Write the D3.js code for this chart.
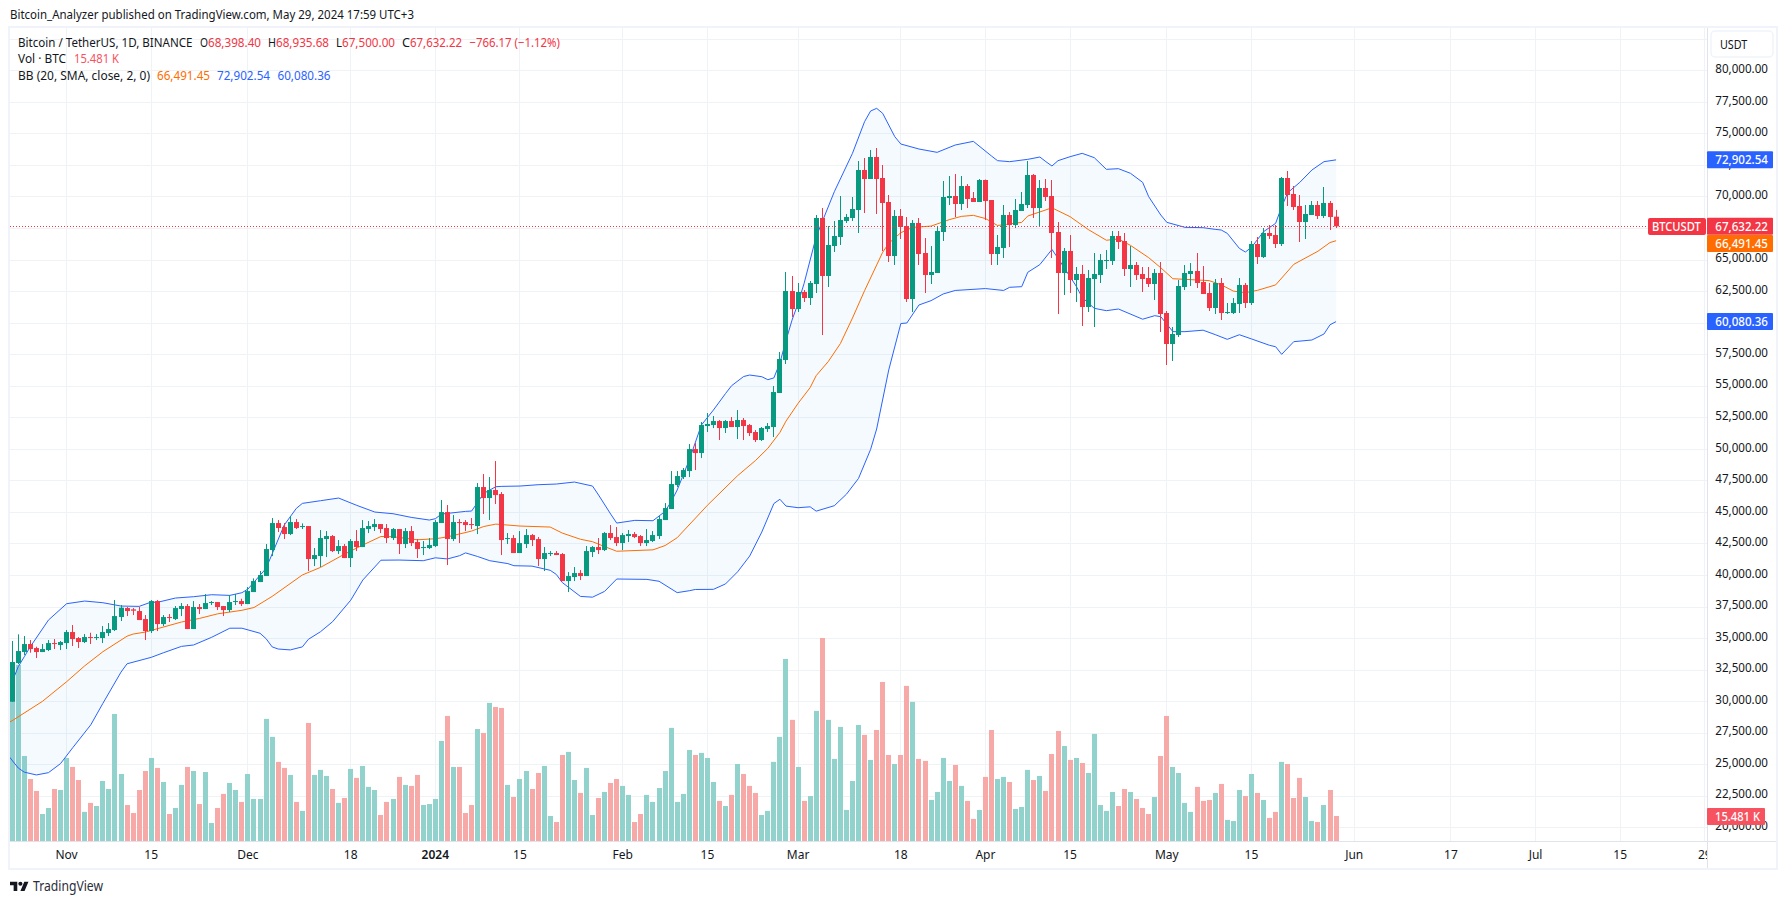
<!DOCTYPE html>
<html>
<head>
<meta charset="utf-8">
<script src="https://cdn.jsdelivr.net/npm/d3@7"></script>
<style>
  html, body { margin: 0; padding: 0; background: #fff; overflow: hidden; }
  svg { display: block; }
  text { font-family: "Noto Sans", sans-serif; font-size: 12px; fill: #131722; }
</style>
</head>
<body>
<svg id="chart" width="1787" height="904"></svg>
<script>
// daily candles, first one is 23 Oct 2023
let firstDay = Date.UTC(2023, 9, 23);

let openPrices = [
  29954, 33019, 33891, 34525, 34208, 33891, 34049, 34604, 34446, 34604,
  35476, 35001, 34684, 35080, 35001, 35001, 35397, 35635, 36665, 37378,
  37273, 37141, 36506, 35555, 37933, 36110, 36665, 36506, 37299, 37537,
  35714, 37458, 37299, 37774, 37854, 37537, 37220, 37854, 37933, 37695,
  38646, 39439, 39915, 41975, 44115, 43798, 43244, 44194, 43798, 43878,
  41262, 41500, 42847, 43085, 41896, 42292, 41341, 42689, 42213, 43640,
  43798, 44036, 43719, 42927, 43640, 42451, 43481, 42610, 42134, 42134,
  42292, 44115, 44987, 42847, 44194, 44194, 44036, 43878, 46969, 46097,
  46731, 46414, 42847, 42927, 41738, 42451, 43164, 42847, 41262, 41658,
  41738, 41658, 39518, 39835, 40152, 39915, 41817, 42213, 41975, 43323,
  43006, 42530, 43085, 43244, 43085, 42530, 42689, 43085, 44353, 45225,
  47127, 47761, 48237, 49981, 49665, 51805, 51884, 52201, 51646, 52201,
  51726, 52281, 51884, 51330, 50695, 51567, 51726, 54421, 57038, 62507,
  61080, 62428, 61952, 63062, 68293, 63696, 66073, 66787, 68055, 68293,
  68927, 72097, 71384, 73128, 71463, 69561, 65281, 68451, 67659, 61873,
  67896, 65519, 63775, 63934, 67183, 69878, 70036, 69402, 70829, 69878,
  69561, 71305, 69719, 65439, 65915, 68530, 67738, 68848, 69323, 71701,
  69085, 70671, 70036, 67183, 63934, 65677, 63379, 63854, 61238, 63458,
  63775, 64885, 64885, 66866, 66470, 64250, 64568, 63854, 63537, 63062,
  63934, 60763, 58306, 59019, 62824, 63854, 64092, 63220, 62348, 61159,
  63141, 60763, 60763, 61476, 62982, 61556, 66232, 65201, 67104, 66945,
  66232, 71463, 70195, 69244, 67975, 68530, 69323, 68451, 69481, 68398.40
];
let highPrices = [
  34763, 35291, 35159, 34842, 34314, 34525, 34842, 34921, 34763, 35635,
  36031, 35080, 35318, 35423, 35318, 35952, 36190, 38012, 37616, 37458,
  37378, 37458, 36824, 38012, 38012, 36824, 36903, 37537, 37774, 37695,
  37933, 37695, 38488, 37933, 37854, 37537, 38409, 38488, 38118, 39043,
  39730, 40311, 42451, 44512, 44353, 44115, 44670, 44433, 44089, 43878,
  42134, 43561, 43481, 43164, 42768, 42451, 42847, 43561, 44353, 44274,
  44433, 44036, 44036, 43719, 43640, 43719, 43878, 42847, 42689, 42927,
  44353, 45938, 45542, 44750, 44433, 44353, 44512, 47286, 47999, 47761,
  49030, 46572, 43323, 43164, 43481, 43640, 43244, 43006, 42213, 41896,
  41896, 41738, 40232, 40628, 40390, 42292, 42292, 42927, 43402, 43957,
  43798, 43323, 43561, 43402, 43164, 43640, 43481, 44670, 45701, 48237,
  48237, 48475, 50377, 50456, 52122, 52836, 52598, 52280, 52280, 52519,
  53073, 52439, 51964, 51488, 51726, 52043, 54975, 57670, 64013, 63696,
  63141, 62586, 63299, 68530, 69085, 67659, 68055, 70036, 68610, 69957,
  72811, 73048, 73682, 73841, 72494, 70116, 68927, 69006, 68372, 68134,
  68293, 66708, 66073, 67659, 71225, 71622, 71780, 71622, 70987, 70353,
  71384, 71340, 69719, 66945, 69323, 68768, 69799, 70353, 72811, 71780,
  71305, 71384, 71305, 67976, 65915, 66945, 64409, 64568, 64171, 65519,
  65440, 65756, 67262, 67262, 67104, 66073, 64805, 64409, 64409, 64250,
  64805, 60922, 59653, 63379, 64568, 64726, 65519, 64488, 63141, 63458,
  63537, 61556, 61952, 63537, 63141, 66470, 66787, 67500, 67738, 67738,
  71542, 72018, 70829, 70116, 69323, 69640, 69640, 70750, 69640, 68935.68
];
let lowPrices = [
  29954, 32940, 33653, 33838, 33415, 33891, 33970, 34129, 34049, 34129,
  34367, 34208, 34604, 34525, 34842, 34604, 35159, 35555, 36348, 36744,
  36824, 36427, 34842, 35397, 35555, 35952, 36269, 36427, 36744, 35714,
  35714, 36903, 37299, 37616, 37220, 36744, 37061, 37616, 37537, 37695,
  38646, 39439, 39915, 41500, 43402, 42847, 43164, 43640, 43640, 40311,
  40707, 40628, 41421, 41817, 41658, 41341, 40628, 41896, 42213, 43323,
  43481, 43323, 42530, 42768, 41658, 42134, 42292, 41341, 41579, 42055,
  42213, 44115, 40787, 42689, 42530, 43481, 43640, 43244, 44829, 44353,
  45621, 41579, 42451, 41738, 41738, 42134, 42292, 40707, 40311, 41500,
  41579, 39518, 38646, 39518, 39598, 39915, 41421, 41658, 41896, 42768,
  42292, 41975, 42610, 42927, 42292, 42292, 42610, 42847, 44353, 45225,
  46969, 47603, 47761, 48316, 49267, 51330, 51646, 50695, 51250, 51726,
  50775, 50695, 51012, 50537, 50616, 51330, 50933, 54421, 56721, 60446,
  60843, 61635, 61397, 62348, 59019, 62824, 65598, 66153, 67897, 68055,
  67104, 68689, 71384, 68610, 65677, 64805, 64568, 66628, 61635, 60843,
  64568, 62348, 63062, 63934, 66470, 69323, 68372, 68927, 69085, 69561,
  69561, 68134, 64568, 64568, 65122, 65994, 67500, 68848, 69085, 68293,
  67579, 69640, 65122, 60684, 62190, 62348, 61635, 59733, 60843, 59653,
  63141, 64250, 64568, 65836, 63696, 62824, 63379, 62428, 62824, 61793,
  59257, 56642, 56959, 58860, 62586, 62903, 62745, 62269, 60922, 60684,
  60208, 60684, 60684, 60763, 61159, 61397, 64646, 65122, 66628, 65915,
  66073, 69244, 68927, 66390, 66628, 68530, 68213, 68292, 67341, 67500.00
];
let closePrices = [
  33098, 33970, 34525, 34129, 33891, 34129, 34604, 34525, 34684, 35476,
  34921, 34684, 35080, 35001, 35080, 35476, 35714, 36744, 37405, 37141,
  37167, 36427, 35555, 37933, 36110, 36665, 36586, 37378, 37537, 35714,
  37458, 37299, 37774, 37854, 37458, 37220, 37854, 37933, 37695, 38726,
  39518, 39994, 42055, 44115, 43719, 43244, 44194, 43719, 43878, 41262,
  41579, 42927, 43085, 41896, 42292, 41341, 42689, 42213, 43719, 43878,
  44036, 43640, 42927, 43640, 42451, 43481, 42530, 42055, 42213, 42372,
  44194, 44987, 42847, 44194, 44115, 43957, 43957, 46969, 46097, 46731,
  46335, 42768, 42927, 41738, 42530, 43164, 42768, 41262, 41738, 41738,
  41579, 39518, 39915, 40152, 39915, 41896, 42213, 41975, 43323, 42927,
  42530, 43164, 43244, 43006, 42530, 42768, 43164, 44433, 45304, 47207,
  47841, 48316, 49981, 49664, 51884, 51964, 52201, 51646, 52201, 51726,
  52281, 51805, 51250, 50695, 51646, 51805, 54500, 57116, 62507, 61080,
  62428, 61952, 63141, 68293, 63696, 66153, 66866, 68134, 68372, 69006,
  72097, 71384, 73128, 71384, 69482, 65281, 68451, 67580, 61873, 67896,
  65439, 63775, 64013, 67262, 69957, 70036, 69402, 70829, 69799, 69561,
  71305, 69640, 65439, 65994, 68530, 67738, 68927, 69402, 71701, 69085,
  70671, 69957, 67104, 63934, 65677, 63379, 63854, 61238, 63537, 63854,
  64964, 64964, 66866, 66390, 64250, 64568, 63775, 63458, 63062, 63934,
  60684, 58306, 59099, 62903, 63934, 64092, 63141, 62269, 61159, 63141,
  60763, 60842, 61556, 62982, 61556, 66232, 65201, 67104, 66866, 66232,
  71463, 70116, 69164, 67975, 68610, 69323, 68451, 69481, 68372, 67632.22
];
// volume in thousands of BTC
let volumes = [
  98, 108, 52.2, 38.1, 30.8, 16.7, 20.4, 32, 31.4, 51,
  45.5, 37.5, 18, 23.5, 21.6, 36.9, 32, 77.9, 41.2, 22.2,
  17.3, 31.4, 43, 51, 44.9, 36.3, 16.7, 20.4, 34.5, 45.5,
  43, 22.8, 42.4, 11.2, 20.4, 29, 35.7, 31.4, 24.1, 41.2,
  25.9, 25.9, 74.9, 63.9, 48.6, 44.9, 40.6, 24.1, 18.6, 72.4,
  40.6, 43.7, 40, 32, 23.5, 26.5, 44.3, 38.8, 46.1, 33.3,
  31.4, 16.1, 24.1, 25.9, 39.4, 34.5, 33.9, 40.6, 22.2, 22.8,
  25.9, 61.4, 76.7, 45.5, 45.5, 17.3, 22.2, 68.7, 66.3, 84.7,
  82.2, 81.6, 34.5, 27.1, 38.1, 43, 32, 41.8, 46.1, 15.5,
  11.8, 52.8, 54.7, 37.5, 29.6, 44.9, 16.1, 26.5, 30.2, 35.7,
  38.1, 33.9, 28.4, 11.8, 16.7, 28.4, 24.1, 32.6, 43, 69.4,
  24.1, 29, 55.9, 52.8, 54.1, 51, 36.3, 24.7, 21.6, 28.4,
  47.3, 41.2, 33.9, 29.6, 16.1, 18.6, 48.6, 63.9, 111.6, 74.3,
  45.5, 24.7, 27.7, 79.8, 124.4, 74.3, 50.4, 70, 19.2, 36.9,
  71.2, 65.1, 49.8, 68.1, 97.5, 52.8, 47.3, 52.8, 95.1, 85.3,
  50.4, 49.2, 25.3, 30.2, 51, 36.9, 46.7, 33.9, 24.7, 13.7,
  19.2, 39.4, 68.1, 38.1, 39.4, 36.3, 19.8, 21, 43.7, 37.5,
  40, 30.8, 53.4, 67.5, 58.3, 49.8, 51, 47.9, 41.8, 65.7,
  22.2, 18.6, 30.2, 21.6, 32, 30.2, 25.9, 20.4, 16.7, 27.1,
  52.2, 76.7, 45.5, 41.8, 23.5, 18, 33.3, 24.7, 25.3, 29.6,
  35.1, 13.1, 12.4, 31.4, 27.7, 41.2, 29.6, 25.3, 14.3, 18,
  48.6, 47.3, 26.5, 38.8, 27.1, 12.4, 11.8, 22.2, 31.4, 15.481
];

// bollinger lines at the days listed (days since firstDay)
let upperDays = [-1, 0, 1, 2, 3, 6, 9, 12, 15, 18, 21, 23, 24, 27, 30, 33, 36, 38, 39, 42, 45, 47, 48, 51, 54, 57, 60, 63, 66, 69, 70, 71, 72, 75, 76, 78, 80, 81, 84, 87, 90, 93, 96, 97, 99, 100, 103, 106, 108, 109, 110, 112, 114, 116, 118, 119, 121, 122, 124, 125, 126, 127, 128, 129, 130, 131, 133, 136, 139, 141, 142, 143, 144, 146, 147, 150, 153, 156, 159, 162, 163, 165, 168, 170, 171, 172, 173, 175, 177, 179, 181, 183, 185, 187, 188, 190, 191, 194, 197, 199, 200, 201, 203, 204, 205, 207, 209, 210, 211, 213, 215, 217, 219];
let upperBand = [30620, 31540, 32729, 33521, 34314, 36427, 37722, 37933, 37801, 37537, 37510, 37854, 37828, 38171, 38277, 38435, 38382, 38594, 38884, 40522, 43957, 45278, 45674, 45886, 46097, 45516, 44987, 44855, 44565, 44353, 44459, 44829, 44881, 45040, 45067, 46467, 46995, 47022, 47048, 47154, 47207, 47365, 47048, 46335, 44829, 44115, 44327, 44300, 45040, 45806, 46731, 49109, 51880, 53073, 54380, 55000, 55730, 55847, 55715, 55477, 55620, 56820, 58580, 60200, 61529, 63115, 66813, 70380, 73418, 75928, 76774, 76985, 76589, 74739, 74158, 73762, 73497, 74079, 74369, 73207, 72837, 72758, 72943, 73128, 72758, 72414, 72837, 73154, 73418, 73075, 72150, 72203, 71833, 71120, 69984, 68531, 67949, 67553, 67527, 67394, 67341, 67077, 65888, 65598, 65968, 67209, 67870, 69191, 70300, 71119, 72097, 72758, 72902.54];

let middleDays = [-1, 0, 5, 9, 12, 15, 19, 20, 22, 28, 31, 34, 38, 40, 43, 48, 51, 55, 58, 61, 63, 67, 70, 72, 76, 78, 80, 84, 89, 91, 94, 96, 98, 100, 106, 108, 110, 115, 120, 123, 125, 127, 128, 130, 132, 133, 135, 137, 139, 141, 144, 145, 147, 149, 152, 155, 157, 159, 161, 163, 167, 168, 172, 175, 178, 181, 183, 185, 188, 190, 192, 194, 198, 200, 202, 204, 206, 209, 212, 216, 218, 219];
let middleBand = [28200, 28450, 29980, 31538, 32800, 33916, 35150, 35317, 35470, 36270, 36558, 36920, 37200, 37420, 38300, 40000, 40600, 41660, 42372, 43050, 43032, 42790, 42870, 43020, 43480, 43840, 44030, 43878, 43798, 43320, 42830, 42636, 42250, 41880, 41990, 42330, 42950, 45520, 47870, 49090, 50035, 51300, 52190, 53600, 54850, 55800, 56920, 58340, 60360, 62530, 65580, 66280, 67130, 67553, 67650, 68160, 68420, 68504, 68250, 67700, 67950, 68450, 69100, 68398, 67380, 66530, 66628, 66120, 65150, 64350, 63480, 63430, 63330, 63000, 62500, 62374, 62560, 62990, 64620, 65660, 66350, 66491.45];

let lowerDays = [-1, 1, 2, 4, 6, 8, 10, 13, 15, 18, 19, 23, 25, 28, 30, 33, 36, 38, 41, 42, 43, 44, 46, 48, 49, 51, 53, 56, 58, 61, 64, 68, 70, 72, 74, 75, 77, 79, 82, 83, 86, 89, 90, 91, 94, 96, 98, 100, 105, 107, 110, 112, 113, 116, 118, 120, 122, 124, 126, 127, 128, 130, 132, 133, 136, 138, 140, 142, 143, 145, 147, 148, 150, 152, 154, 156, 161, 164, 165, 167, 168, 170, 172, 173, 176, 177, 179, 181, 183, 187, 189, 190, 192, 194, 197, 199, 201, 203, 205, 208, 209, 210, 212, 215, 217, 218, 219];
let lowerBand = [25900, 24700, 24370, 24150, 24330, 25050, 26300, 28120, 29820, 32300, 32960, 33470, 33830, 34340, 34450, 35060, 35780, 35780, 35380, 34950, 34300, 34130, 34060, 34300, 34900, 35500, 36295, 38000, 39598, 41170, 41183, 41130, 41360, 41270, 41526, 41750, 41460, 41130, 40900, 40734, 40700, 40370, 40047, 39400, 38300, 38240, 38700, 39680, 39650, 39500, 38600, 38750, 38850, 38860, 39290, 40250, 41500, 43400, 45660, 46000, 45460, 45331, 45400, 45060, 45490, 46400, 47650, 49950, 51570, 56250, 59930, 59970, 61400, 61741, 62270, 62550, 62700, 62550, 62800, 62850, 63990, 64600, 65800, 65100, 62900, 62000, 61133, 60948, 61080, 60270, 60551, 60472, 59284, 59284, 59400, 59050, 58676, 59040, 58710, 58200, 58090, 57486, 58490, 58623, 59100, 59830, 60080.36];

// axis ticks
let priceTicks = [82500, 80000, 77500, 75000, 72500, 70000, 67500, 65000, 62500, 60000, 57500, 55000, 52500, 50000, 47500, 45000, 42500, 40000, 37500, 35000, 32500, 30000, 27500, 25000, 22500, 20000];
let timeTicks = [
  [Date.UTC(2023, 10, 1), "Nov"], [Date.UTC(2023, 10, 15), "15"], [Date.UTC(2023, 11, 1), "Dec"],
  [Date.UTC(2023, 11, 18), "18"], [Date.UTC(2024, 0, 1), "2024"], [Date.UTC(2024, 0, 15), "15"],
  [Date.UTC(2024, 1, 1), "Feb"], [Date.UTC(2024, 1, 15), "15"], [Date.UTC(2024, 2, 1), "Mar"],
  [Date.UTC(2024, 2, 18), "18"], [Date.UTC(2024, 3, 1), "Apr"], [Date.UTC(2024, 3, 15), "15"],
  [Date.UTC(2024, 4, 1), "May"], [Date.UTC(2024, 4, 15), "15"], [Date.UTC(2024, 5, 1), "Jun"],
  [Date.UTC(2024, 5, 17), "17"], [Date.UTC(2024, 6, 1), "Jul"], [Date.UTC(2024, 6, 15), "15"],
  [Date.UTC(2024, 6, 29), "29"]
];

let green = "#089981", red = "#F23645", volGreen = "#92d2cc", volRed = "#f7a9a7";
let blue = "#2962FF", orange = "#FF6D00";
let gridColor = "#f0f3f6", frameColor = "#f0f3fa", scaleLine = "#e0e3eb";

let pane = { left: 10, right: 1707, top: 28, bottom: 841 };

let svg = d3.select("#chart");

let dayToDate = function(i) { return new Date(firstDay + i * 86400000); };

let x = d3.scaleUtc()
  .domain([new Date(Date.UTC(2023, 10, 1)), new Date(Date.UTC(2024, 6, 15))])
  .range([66.6, 1620.2]);
let y = d3.scaleLinear()
  .domain([20000, 80000])
  .range([827.3, 70.3]);
let yVol = d3.scaleLinear()
  .domain([0, 124.4])
  .range([841.3, 638]);

svg.append("clipPath").attr("id", "paneClip").append("rect")
  .attr("x", pane.left).attr("y", pane.top)
  .attr("width", pane.right - pane.left).attr("height", pane.bottom - pane.top);

// the installed fonts run wider than the original, so squeeze texts to the measured widths
let fit = function(sel, width) {
  return sel.attr("textLength", width).attr("lengthAdjust", "spacingAndGlyphs");
};

// header
fit(svg.append("text").attr("x", 10).attr("y", 19)
  .style("font-size", "12.5px")
  .text("Bitcoin_Analyzer published on TradingView.com, May 29, 2024 17:59 UTC+3"), 404);

// gridlines
let plot = svg.append("g").attr("clip-path", "url(#paneClip)");
plot.append("g").selectAll("line").data(priceTicks).enter().append("line")
  .attr("x1", pane.left).attr("x2", pane.right)
  .attr("y1", function(d) { return Math.round(y(d)) + 0.5; })
  .attr("y2", function(d) { return Math.round(y(d)) + 0.5; })
  .attr("stroke", gridColor);
plot.append("g").selectAll("line").data(timeTicks).enter().append("line")
  .attr("x1", function(d) { return Math.floor(x(new Date(d[0]))) + 0.5; })
  .attr("x2", function(d) { return Math.floor(x(new Date(d[0]))) + 0.5; })
  .attr("y1", pane.top).attr("y2", pane.bottom)
  .attr("stroke", gridColor);

let bodyLeft = function(i) { return Math.round(x(dayToDate(i)) - 2.5); };
let isUp = function(i) { return closePrices[i] >= openPrices[i]; };

// volume
plot.append("g").selectAll("rect").data(volumes).enter().append("rect")
  .attr("x", function(d, i) { return bodyLeft(i); })
  .attr("width", 5)
  .attr("y", function(d) { return yVol(d); })
  .attr("height", function(d) { return yVol(0) - yVol(d); })
  .attr("fill", function(d, i) { return isUp(i) ? volGreen : volRed; });

// bollinger band fill and lines
let makeLine = function(days, values) {
  return d3.line()
    .x(function(d, i) { return x(dayToDate(days[i])); })
    .y(function(d) { return y(d); })(values);
};
// fill needs both edges, so walk along the upper line and back down the lower one
let upperPts = upperBand.map(function(v, i) { return [x(dayToDate(upperDays[i])), y(v)]; });
let lowerPts = lowerBand.map(function(v, i) { return [x(dayToDate(lowerDays[i])), y(v)]; }).reverse();
plot.append("path")
  .attr("d", d3.line()(upperPts.concat(lowerPts)) + "Z")
  .attr("fill", "rgba(33,150,243,0.05)");
plot.append("path").attr("d", makeLine(upperDays, upperBand))
  .attr("fill", "none").attr("stroke", blue).attr("stroke-width", 1);
plot.append("path").attr("d", makeLine(lowerDays, lowerBand))
  .attr("fill", "none").attr("stroke", blue).attr("stroke-width", 1);
plot.append("path").attr("d", makeLine(middleDays, middleBand))
  .attr("fill", "none").attr("stroke", orange).attr("stroke-width", 1);

// candles
let candles = plot.append("g").selectAll("g").data(openPrices).enter().append("g");
candles.append("rect")
  .attr("x", function(d, i) { return bodyLeft(i) + 2; })
  .attr("width", 1)
  .attr("y", function(d, i) { return y(highPrices[i]); })
  .attr("height", function(d, i) { return y(lowPrices[i]) - y(highPrices[i]); })
  .attr("fill", function(d, i) { return isUp(i) ? green : red; });
candles.append("rect")
  .attr("x", function(d, i) { return bodyLeft(i); })
  .attr("width", 5)
  .attr("y", function(d, i) { return y(Math.max(openPrices[i], closePrices[i])); })
  .attr("height", function(d, i) { return Math.max(1, Math.abs(y(openPrices[i]) - y(closePrices[i]))); })
  .attr("fill", function(d, i) { return isUp(i) ? green : red; });

// last price line
let lastClose = closePrices[closePrices.length - 1];
svg.append("line")
  .attr("x1", pane.left).attr("x2", 1648)
  .attr("y1", Math.round(y(lastClose)) + 0.5).attr("y2", Math.round(y(lastClose)) + 0.5)
  .attr("stroke", red).attr("stroke-dasharray", "1 2");

// scale lines and frame
svg.append("line").attr("x1", pane.left).attr("x2", 1776).attr("y1", 841.5).attr("y2", 841.5).attr("stroke", scaleLine);
svg.append("line").attr("x1", 1707.5).attr("x2", 1707.5).attr("y1", pane.top).attr("y2", 869).attr("stroke", scaleLine);
svg.append("rect").attr("x", 9).attr("y", 27).attr("width", 1768).attr("height", 842)
  .attr("fill", "none").attr("stroke", frameColor).attr("stroke-width", 2);

// price labels
fit(svg.append("g").selectAll("text").data(priceTicks.slice(1)).enter().append("text")
  .attr("x", 1768)
  .attr("y", function(d) { return y(d) - 1.5; })
  .attr("dy", "0.35em")
  .style("text-anchor", "end")
  .text(function(d) { return d3.format(",.2f")(d); }), 52.7);

// time labels
svg.append("clipPath").attr("id", "timeClip").append("rect")
  .attr("x", pane.left).attr("y", 842).attr("width", pane.right - pane.left).attr("height", 26);
svg.append("g").attr("clip-path", "url(#timeClip)").selectAll("text").data(timeTicks).enter().append("text")
  .attr("x", function(d) { return x(new Date(d[0])); })
  .attr("y", 855)
  .attr("dy", "0.35em")
  .style("text-anchor", "middle")
  .style("font-weight", function(d) { return d[1] === "2024" ? "600" : "400"; })
  .text(function(d) { return d[1]; });

// value tags on the price scale
let tags = [
  { value: 72902.54, label: "72,902.54", color: blue },
  { value: 60080.36, label: "60,080.36", color: blue },
  { value: 66491.45, label: "66,491.45", color: orange, yc: 243.5 },
  { value: 67632.22, label: "67,632.22", color: red }
];
let tag = svg.append("g").selectAll("g").data(tags).enter().append("g");
tag.append("rect")
  .attr("x", 1707)
  .attr("y", function(d) { return (d.yc || y(d.value)) - 8.5; })
  .attr("width", 66)
  .attr("height", 17)
  .attr("rx", 1)
  .attr("fill", function(d) { return d.color; });
fit(tag.append("text")
  .attr("x", 1768)
  .attr("y", function(d) { return d.yc || y(d.value); })
  .attr("dy", "0.35em")
  .style("text-anchor", "end")
  .style("fill", "#fff")
  .style("font-weight", "500")
  .text(function(d) { return d.label; }), 52.7);

// BTCUSDT tag
svg.append("rect").attr("x", 1648).attr("y", 218).attr("width", 58).attr("height", 17).attr("rx", 2).attr("fill", red);
fit(svg.append("text").attr("x", 1652).attr("y", 226.5).attr("dy", "0.35em")
  .style("fill", "#fff").style("font-weight", "500").text("BTCUSDT"), 48.7);

// volume tag
svg.append("rect").attr("x", 1707).attr("y", 808).attr("width", 58).attr("height", 17).attr("rx", 1).attr("fill", "#f7525f");
fit(svg.append("text").attr("x", 1715).attr("y", 816.5).attr("dy", "0.35em")
  .style("fill", "#fff").style("font-weight", "500").text("15.481 K"), 45);

// currency button
svg.append("rect").attr("x", 1711).attr("y", 31).attr("width", 62).attr("height", 26).attr("rx", 4)
  .attr("fill", "#fff").attr("stroke", frameColor).attr("stroke-width", 1.5);
fit(svg.append("text").attr("x", 1720).attr("y", 44.5).attr("dy", "0.35em").text("USDT"), 27.3);

// legend rows: x, y, text, colour, width
let legendRows = [
  [18, 42.7, "Bitcoin / TetherUS, 1D, BINANCE", "#131722", 174.5],
  [200, 42.7, "O", "#131722", 8], [208, 42.7, "68,398.40", red, 53],
  [268, 42.7, "H", "#131722", 8], [276, 42.7, "68,935.68", red, 53],
  [336, 42.7, "L", "#131722", 6], [342, 42.7, "67,500.00", red, 53],
  [402, 42.7, "C", "#131722", 8], [410, 42.7, "67,632.22", red, 52],
  [469.5, 42.7, "\u2212766.17 (\u22121.12%)", red, 90.5],
  [18, 59, "Vol \u00b7 BTC", "#131722", 48], [74, 59, "15.481 K", "#f7525f", 45],
  [18, 76, "BB (20, SMA, close, 2, 0)", "#131722", 132], [157, 76, "66,491.45", orange, 53],
  [217, 76, "72,902.54", blue, 53], [277.5, 76, "60,080.36", blue, 53]
];
svg.append("g").selectAll("text").data(legendRows).enter().append("text")
  .attr("x", function(d) { return d[0]; })
  .attr("y", function(d) { return d[1]; })
  .attr("dy", "0.35em")
  .attr("textLength", function(d) { return d[4]; })
  .attr("lengthAdjust", "spacingAndGlyphs")
  .style("fill", function(d) { return d[3]; })
  .text(function(d) { return d[2]; });

// logo
let logo = svg.append("g").attr("transform", "translate(10,879.6) scale(0.52)").attr("fill", "#131722");
logo.append("path").attr("d", "M14 22H7V11H0V4h14v18zM28 22h-8l7.5-18h8L28 22z");
logo.append("circle").attr("cx", 20).attr("cy", 8).attr("r", 4);
fit(svg.append("text").attr("x", 33).attr("y", 886.5).attr("dy", "0.35em")
  .style("font-size", "13.5px").style("fill", "#2a2e39").text("TradingView"), 70);
</script>
</body>
</html>
